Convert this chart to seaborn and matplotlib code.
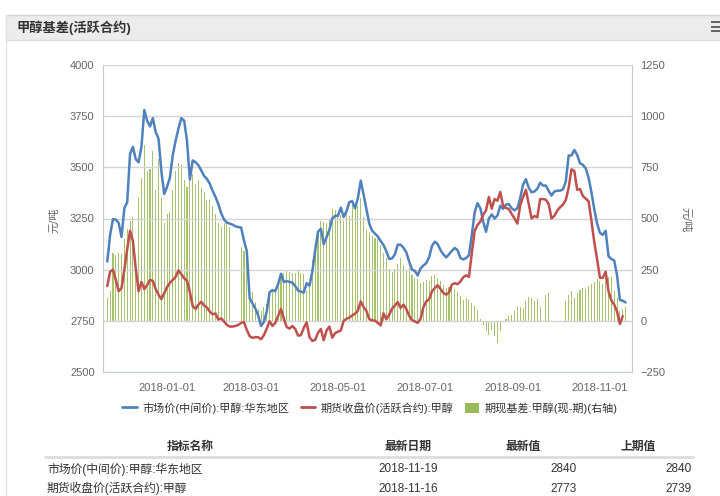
import numpy as np
import pandas as pd
import matplotlib
matplotlib.use('Agg')
import matplotlib.pyplot as plt
import matplotlib.dates as mdates
from matplotlib.lines import Line2D
from matplotlib.patches import Patch, Rectangle
import seaborn as sns

sns.set_style('white')
plt.rcParams['font.family'] = ['Liberation Sans', 'Noto Sans CJK SC']

# values, one reading every 2 days from 2017-11-20
start = '2017-11-20'
spot = [  # 市场价(中间价):甲醇:华东地区, left axis
    3040, 3170, 3247, 3245, 3228, 3160, 3300, 3330, 3566, 3600,
    3540, 3525, 3600, 3780, 3728, 3700, 3740, 3672, 3640, 3480,
    3370, 3405, 3450, 3560, 3630, 3690, 3740, 3728, 3630, 3440,
    3534, 3525, 3510, 3485, 3458, 3443, 3420, 3385, 3355, 3320,
    3275, 3245, 3230, 3225, 3220, 3212, 3208, 3206, 3142, 3090,
    2860, 2835, 2810, 2775, 2725, 2745, 2795, 2890, 2900, 2895,
    2930, 2980, 2940, 2944, 2940, 2937, 2920, 2898, 2893, 2888,
    2934, 2922, 2990, 3095, 3185, 3200, 3125, 3158, 3195, 3250,
    3263, 3263, 3303, 3257, 3286, 3330, 3335, 3300, 3350, 3435,
    3368, 3295, 3225, 3190, 3176, 3162, 3140, 3120, 3090, 3052,
    3055, 3075, 3122, 3122, 3107, 3085, 3040, 3000, 2994, 2972,
    3006, 3020, 3032, 3060, 3115, 3137, 3125, 3096, 3075, 3060,
    3075, 3092, 3106, 3095, 3057, 3050, 3057, 3070, 3170, 3280,
    3325, 3300, 3235, 3185, 3250, 3270, 3250, 3265, 3312, 3297,
    3318, 3320, 3300, 3290, 3300, 3350, 3415, 3442, 3400, 3378,
    3382, 3395, 3425, 3411, 3411, 3385, 3362, 3382, 3386, 3386,
    3392, 3430, 3558, 3558, 3585, 3560, 3520, 3512, 3495, 3450,
    3378, 3295, 3225, 3180, 3170, 3190, 3066, 3052, 3045, 2972,
    2852, 2848, 2840]
futures = [  # 期货收盘价(活跃合约):甲醇, left axis
    2920, 2990, 3000, 2950, 2895, 2910, 3000, 3100, 3190, 3140,
    3005, 2895, 2940, 2905, 2925, 2950, 2945, 2905, 2878, 2856,
    2885, 2915, 2935, 2950, 2965, 2996, 2978, 2958, 2946, 2890,
    2822, 2808, 2829, 2843, 2825, 2815, 2795, 2782, 2786, 2756,
    2762, 2747, 2730, 2722, 2722, 2725, 2730, 2740, 2744, 2705,
    2675, 2667, 2670, 2670, 2660, 2680, 2712, 2748, 2725, 2740,
    2775, 2808, 2760, 2720, 2712, 2725, 2710, 2678, 2680, 2716,
    2742, 2670, 2652, 2657, 2692, 2710, 2655, 2703, 2722, 2668,
    2690, 2697, 2703, 2750, 2760, 2766, 2776, 2785, 2800, 2845,
    2817, 2798, 2758, 2752, 2751, 2740, 2728, 2786, 2758, 2780,
    2810, 2825, 2842, 2813, 2829, 2808, 2775, 2754, 2747, 2740,
    2760, 2817, 2845, 2855, 2894, 2910, 2924, 2906, 2886, 2878,
    2888, 2927, 2934, 2929, 2942, 2963, 2972, 2965, 3080, 3190,
    3218, 3235, 3268, 3290, 3355, 3298, 3345, 3337, 3380, 3310,
    3302, 3296, 3272, 3250, 3225, 3315, 3355, 3390, 3320, 3250,
    3262, 3256, 3345, 3345, 3342, 3320, 3250, 3263, 3288, 3305,
    3318, 3340, 3400, 3490, 3482, 3390, 3394, 3360, 3347, 3335,
    3240, 3135, 3050, 2960, 2960, 2990, 2894, 2850, 2829, 2795,
    2735, 2773]
nan = np.nan
basis = [  # 期现基差:甲醇(现-期), right axis
    110, 145, 330, 320, 333, 325, 400, 450, 490, 505,
    310, 600, 700, 860, 730, 740, 830, 640, 790, 600,
    480, 520, 530, 640, 730, 770, 760, 690, 655, 685,
    715, 670, 690, 650, 630, 590, 590, 560, 520, 480,
    460, 480, 480, 460, nan, nan, nan, 360, 340, 305,
    160, 140, 90, 60, 50, 70, 80, 120, 145, 160,
    205, 210, 235, 243, 240, 235, 235, 243, 235, 230,
    145, 165, 295, 374, 430, 490, 485, 480, 500, 545,
    540, 525, 515, 490, 535, 513, 565, 548, 560, 600,
    505, 445, 432, 415, 407, 400, 370, 330, 305, 252,
    238, 255, 280, 305, 272, 243, 258, 225, 210, 205,
    185, 190, 200, 195, 220, 225, 208, 195, 177, 162,
    165, 161, 155, 140, 120, 103, 110, 100, 85, 72,
    55, 10, -20, -50, -68, -45, -75, -110, -50, -5,
    10, 25, 30, 50, 70, 68, 62, 95, 115, 110,
    95, 108, 70, nan, 125, 136, nan, nan, nan, nan,
    nan, 95, 128, 144, 111, 135, 152, 160, 155, 170,
    182, 190, 202, 193, 180, 218, 215, 212, 144, 111,
    46, 60, 67]

names = ['市场价(中间价):甲醇:华东地区', '期货收盘价(活跃合约):甲醇', '期现基差:甲醇(现-期)(右轴)']
tick_dates = ['2018-01-01', '2018-03-01', '2018-05-01', '2018-07-01', '2018-09-01', '2018-11-01']
left_ticks = [2500, 2750, 3000, 3250, 3500, 3750, 4000]
right_ticks = [-250, 0, 250, 500, 750, 1000, 1250]

table_header = ['指标名称', '最新日期', '最新值', '上期值']
table_rows = [['市场价(中间价):甲醇:华东地区', '2018-11-19', '2840', '2840'],
              ['期货收盘价(活跃合约):甲醇', '2018-11-16', '2773', '2739']]

colors = ['#4F81BD', '#C0504D', '#9BBB59']
W, H = 720, 496

def fx(x):
    return x / W

def fy(y):
    return 1 - y / H

dates = pd.date_range(start, periods=len(spot), freq='2D')
df_bar = pd.DataFrame({'date': dates, 'basis': basis}).dropna()

fig = plt.figure(figsize=(W / 100, H / 100), dpi=100)
fig.patch.set_facecolor('white')

# panel chrome: title bar and menu icon
fig.add_artist(Rectangle((fx(6), fy(40)), 1, 25 / H, transform=fig.transFigure,
                         facecolor='#ECECEC', edgecolor='none'))
fig.add_artist(Line2D([fx(6), 1], [fy(15), fy(15)], color='#D4D4D4', lw=1))
fig.add_artist(Line2D([fx(6), 1], [fy(40), fy(40)], color='#DCDCDC', lw=1))
fig.add_artist(Line2D([fx(6), fx(6)], [fy(15), 0], color='#E2E2E2', lw=1))
for yy in [21, 25.5, 30]:
    fig.add_artist(Rectangle((fx(711), fy(yy + 2)), 9 / W, 2 / H, transform=fig.transFigure,
                             facecolor='#666666', edgecolor='none'))
fig.text(fx(17), fy(28), '甲醇基差(活跃合约)', fontsize=9.5, fontweight='bold',
         color='#333333', va='center', ha='left')

# chart: bars on the twin (right) axis, drawn behind the price lines
ax = fig.add_axes([fx(103), fy(372), 529 / W, 307 / H])
ax2 = ax.twinx()
ax.set_zorder(ax2.get_zorder() + 1)
ax.patch.set_visible(False)
ax2.patch.set_visible(True)
ax2.patch.set_facecolor('white')

ax2.bar(df_bar['date'], df_bar['basis'], width=0.75, color='#A6C26A',
        edgecolor='none', linewidth=0, zorder=2)
sns.lineplot(x=dates, y=spot, ax=ax, color=colors[0], linewidth=1.8, legend=False)
sns.lineplot(x=dates[:len(futures)], y=futures, ax=ax, color=colors[1], linewidth=1.8, legend=False)

ax.set_ylim(2500, 4000)
ax2.set_ylim(-250, 1250)
ax.set_yticks(left_ticks)
ax2.set_yticks(right_ticks)
ax.yaxis.grid(True, color='#D4D4D4', lw=1)
ax.set_axisbelow(True)
ax.set_xlim(pd.Timestamp('2017-11-17'), pd.Timestamp('2018-11-23 12:00'))
ax.set_xticks(pd.to_datetime(tick_dates))
ax.xaxis.set_major_formatter(mdates.DateFormatter('%Y-%m-%d'))
ax.set_xlabel('')
ax.set_ylabel('')

ax.tick_params(axis='x', length=5, width=1, color='#C0D0E0', labelsize=8, labelcolor='#666666', pad=3)
ax.tick_params(axis='y', length=0, labelsize=8, labelcolor='#666666', pad=6)
ax2.tick_params(axis='y', length=0, labelsize=8, labelcolor='#666666', pad=6)

ax.spines['top'].set_visible(False)
ax.spines['left'].set_color('#C8C8C8')
ax.spines['right'].set_color('#C8C8C8')
ax.spines['bottom'].set_color('#C0D0E0')
for s in ax2.spines.values():
    s.set_visible(False)

fig.text(fx(54), fy(220), '元/吨', rotation=90, fontsize=8, color='#666666', ha='center', va='center')
fig.text(fx(686), fy(220), '元/吨', rotation=270, fontsize=8, color='#666666', ha='center', va='center')

handles = [Line2D([], [], color=colors[0], lw=2), Line2D([], [], color=colors[1], lw=2),
           Patch(facecolor=colors[2], edgecolor='none')]
fig.legend(handles, names, loc='center', bbox_to_anchor=(fx(370), fy(408)), ncol=3,
           frameon=False, fontsize=8, labelcolor='#333333', handlelength=1.3,
           handleheight=1.0, handletextpad=0.5, columnspacing=1.0)

# data table under the chart
fig.add_artist(Line2D([fx(45), fx(693)], [fy(457), fy(457)], color='#DDDDDD', lw=2))
header_x = [190, 408, 523, 638]
for x, t in zip(header_x, table_header):
    fig.text(fx(x), fy(447), t, fontsize=8.5, fontweight='bold', color='#333333', ha='center', va='center')
for y, row in zip([469, 488.5], table_rows):
    fig.text(fx(47), fy(y), row[0], fontsize=8.5, color='#333333', ha='left', va='center')
    fig.text(fx(408), fy(y), row[1], fontsize=8.5, color='#333333', ha='center', va='center')
    fig.text(fx(577), fy(y), row[2], fontsize=8.5, color='#333333', ha='right', va='center')
    fig.text(fx(692), fy(y), row[3], fontsize=8.5, color='#333333', ha='right', va='center')

fig.savefig('out.png', dpi=100)
